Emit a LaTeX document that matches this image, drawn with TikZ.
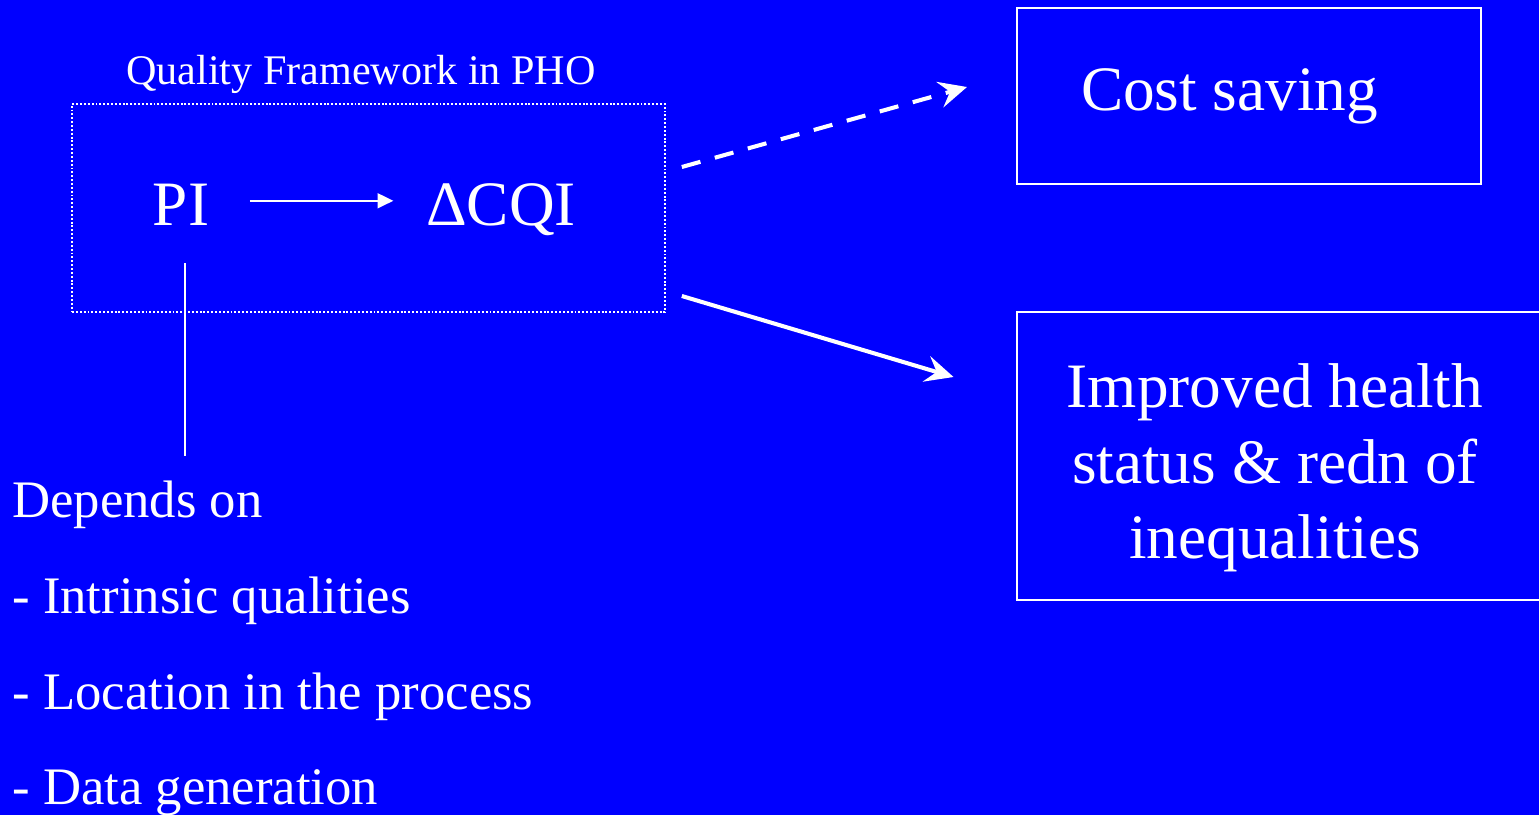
\documentclass[tikz,border=0pt]{standalone}
\usepackage{fontspec}
\setmainfont{Liberation Serif}
\usetikzlibrary{positioning}
\usetikzlibrary{calc}
\usetikzlibrary{arrows.meta}
\definecolor{slideblue}{RGB}{0,0,255}

\begin{document}
\begin{tikzpicture}[x=0.02cm, y=-0.02cm, every node/.style={text=white, inner sep=0pt},
    bigtext/.style={font=\fontsize{36}{43}\selectfont},
    listtext/.style={font=\fontsize{30}{54.4}\selectfont, align=left},
    boxline/.style={draw=white, line width=1.2pt},
    bigarrow/.style={white, line width=2.3pt, -{Stealth[length=16pt, width=15pt, inset=6pt]}}]
    \useasboundingbox (0,0) rectangle (1539,815);
    \fill[slideblue] (0,0) rectangle (1539,815);
    \node[font=\fontsize{24}{28}\selectfont, anchor=base] (title) at (361,84) {Quality Framework in PHO};
    \node[draw=white, line width=1pt, dash pattern=on 1.1pt off 1.1pt, minimum width=11.86cm, minimum height=4.16cm] (frame) at (368.5,208) {};
    \node[bigtext, anchor=base] (pi) at (181,225) {PI};
    \node[bigtext, anchor=base] (cqi) at (501,225) {ΔCQI};
    \node[listtext, anchor=north west] (deps) at (12,481) {Depends on\\- Intrinsic qualities\\- Location in the process\\- Data generation};
    \node[bigtext, boxline, text width=6.72cm, align=flush left, inner xsep=1.28cm, minimum height=3.52cm] (cost) at (1249,96) {Cost saving};
    \node[bigtext, align=center] (health) at (1275,468) {Improved health\\status \& redn of\\inequalities};
    \draw[boxline] (1017,312) rectangle (1560,600);
    \draw[white, line width=1.1pt, -{Triangle[length=9pt, width=8.5pt]}, shorten <=23pt, shorten >=18.5pt]
      ([yshift=2pt]pi.east) -- ([yshift=2pt]pi.east -| cqi.west);
    \draw[white, line width=0.9pt, shorten <=21.5pt, shorten >=14.5pt] ([xshift=2.3pt]pi.south) -- ([xshift=2.3pt]pi.south |- deps.north);
    \draw[bigarrow, dash pattern=on 11pt off 8.5pt] ($(frame.east)+(16,-41)$) -- ($(cost.west)+(-49,-9)$);
    \draw[bigarrow] ($(frame.east)+(16,88)$) -- ($(health.west)+(-113,-91)$);
\end{tikzpicture}
\end{document}
